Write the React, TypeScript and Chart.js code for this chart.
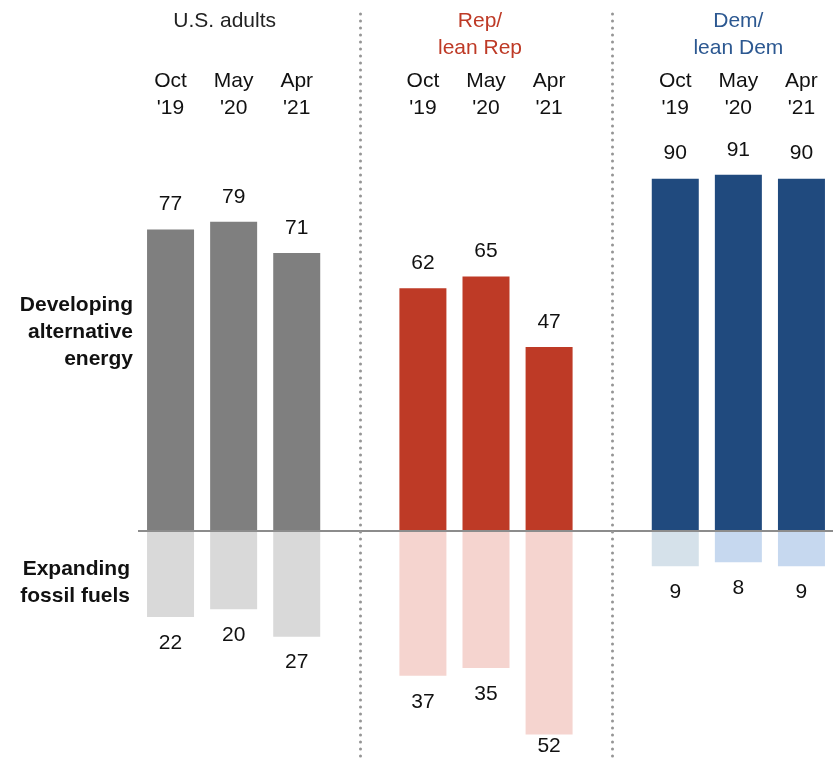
import React, { useEffect, useRef } from "react";
import { Chart, registerables } from "chart.js";

Chart.register(...registerables);

// ---- Data ----
const groupTitles = [["U.S. adults"], ["Rep/", "lean Rep"], ["Dem/", "lean Dem"]];
const waves = [["Oct", "'19"], ["May", "'20"], ["Apr", "'21"]];
const usAlternative = [77, 79, 71];
const repAlternative = [62, 65, 47];
const demAlternative = [90, 91, 90];
const usFossil = [22, 20, 27];
const repFossil = [37, 35, 52];
const demFossil = [9, 8, 9];
const rowLabelAlternative = ["Developing", "alternative", "energy"];
const rowLabelFossil = ["Expanding", "fossil fuels"];

// ---- Styles ----
const FONT = "'Liberation Sans', Arial, sans-serif";
const altColors = ["#7f7f7f", "#be3a26", "#204a7e"];
const fossilColors = [
  ["#d9d9d9", "#d9d9d9", "#d9d9d9"],
  ["#f5d4cf", "#f5d4cf", "#f5d4cf"],
  ["#d5e1ea", "#c6d8ef", "#c6d8ef"],
];
const titleColors = ["#222222", "#be3a26", "#2c5891"];
const titleOffsets = [-9, -6, 0];

function buildSeries(parts: number[][], sign: number) {
  const out: (number | null)[] = [];
  parts.forEach((p, gi) => {
    p.forEach((v) => out.push(sign * v));
    if (gi < parts.length - 1) out.push(null);
  });
  return out;
}

const labels: (string[] | string)[] = [];
[0, 1, 2].forEach((gi) => {
  waves.forEach((w) => labels.push(w));
  if (gi < 2) labels.push("");
});

const altData = buildSeries([usAlternative, repAlternative, demAlternative], 1);
const fossilData = buildSeries([usFossil, repFossil, demFossil], -1);

const altBg: string[] = [];
const fossilBg: string[] = [];
[0, 1, 2].forEach((gi) => {
  [0, 1, 2].forEach((wi) => {
    altBg.push(altColors[gi]);
    fossilBg.push(fossilColors[gi][wi]);
  });
  if (gi < 2) {
    altBg.push("transparent");
    fossilBg.push("transparent");
  }
});

const overlayPlugin = {
  id: "overlay",
  afterDatasetsDraw(chart: any) {
    const { ctx, chartArea, scales } = chart;
    const x = scales.x;
    const y = scales.y;
    const y0 = y.getPixelForValue(0);
    ctx.save();

    // zero line
    ctx.strokeStyle = "#8c8c8c";
    ctx.lineWidth = 2;
    ctx.beginPath();
    ctx.moveTo(chartArea.left - 1, y0);
    ctx.lineTo(chart.width, y0);
    ctx.stroke();

    // dotted dividers
    ctx.setLineDash([0, 7]);
    ctx.lineCap = "round";
    ctx.lineWidth = 3;
    ctx.strokeStyle = "#959595";
    [3, 7].forEach((idx) => {
      const xx = Math.round(x.getPixelForValue(idx)) + 0.5;
      ctx.beginPath();
      ctx.moveTo(xx, 14);
      ctx.lineTo(xx, chart.height);
      ctx.stroke();
    });
    ctx.setLineDash([]);

    // value labels
    ctx.font = `21px ${FONT}`;
    ctx.fillStyle = "#111111";
    ctx.textAlign = "center";
    ctx.textBaseline = "middle";
    chart.data.datasets.forEach((ds: any, di: number) => {
      const meta = chart.getDatasetMeta(di);
      meta.data.forEach((bar: any, i: number) => {
        const v = ds.data[i];
        if (v === null || v === undefined) return;
        const ty = v >= 0 ? bar.y - 25 : Math.min(bar.y + 26, chart.height - 14.5);
        ctx.fillText(String(Math.abs(v)), bar.x, ty);
      });
    });

    // group titles
    groupTitles.forEach((lines, gi) => {
      const cx = x.getPixelForValue(gi * 4 + 1) + titleOffsets[gi];
      ctx.fillStyle = titleColors[gi];
      ctx.font = `21px ${FONT}`;
      lines.forEach((ln, li) => {
        ctx.fillText(ln, cx, 21 + li * 27);
      });
    });

    // row labels
    ctx.fillStyle = "#111111";
    ctx.font = `bold 21px ${FONT}`;
    ctx.textAlign = "right";
    ctx.textBaseline = "alphabetic";
    rowLabelAlternative.forEach((ln, li) => {
      ctx.fillText(ln, 133, y0 - 220 + li * 27);
    });
    rowLabelFossil.forEach((ln, li) => {
      ctx.fillText(ln, 130, y0 + 44 + li * 27);
    });

    ctx.restore();
  },
};

export default function App() {
  const ref = useRef<HTMLCanvasElement | null>(null);
  useEffect(() => {
    if (!ref.current) return;
    const chart = new Chart(ref.current, {
      type: "bar",
      data: {
        labels,
        datasets: [
          {
            label: "Developing alternative energy",
            data: altData,
            backgroundColor: altBg,
            borderWidth: 0,
            barPercentage: 0.745,
            categoryPercentage: 1,
          },
          {
            label: "Expanding fossil fuels",
            data: fossilData,
            backgroundColor: fossilBg,
            borderWidth: 0,
            barPercentage: 0.745,
            categoryPercentage: 1,
          },
        ],
      },
      options: {
        responsive: false,
        animation: false,
        devicePixelRatio: 1,
        layout: { padding: { top: 0, bottom: 14.7, left: 139, right: 0 } },
        plugins: { legend: { display: false }, tooltip: { enabled: false } },
        scales: {
          x: {
            position: "top",
            stacked: true,
            offset: true,
            grid: { display: false, drawTicks: false },
            border: { display: false },
            ticks: {
              autoSkip: false,
              maxRotation: 0,
              padding: 18.5,
              color: "#111111",
              font: { size: 21, family: FONT, lineHeight: 1.25 },
            },
            afterFit: (s: any) => {
              s.height = 139.5;
              s.paddingLeft = 0;
              s.paddingRight = 0;
            },
          },
          y: { display: false, stacked: true, min: -55, max: 100 },
        },
      },
      plugins: [overlayPlugin],
    });
    return () => chart.destroy();
  }, []);
  return (
    <canvas
      ref={ref}
      width={833}
      height={761}
      style={{ position: "absolute", left: 0, top: 0, display: "block" }}
    />
  );
}
